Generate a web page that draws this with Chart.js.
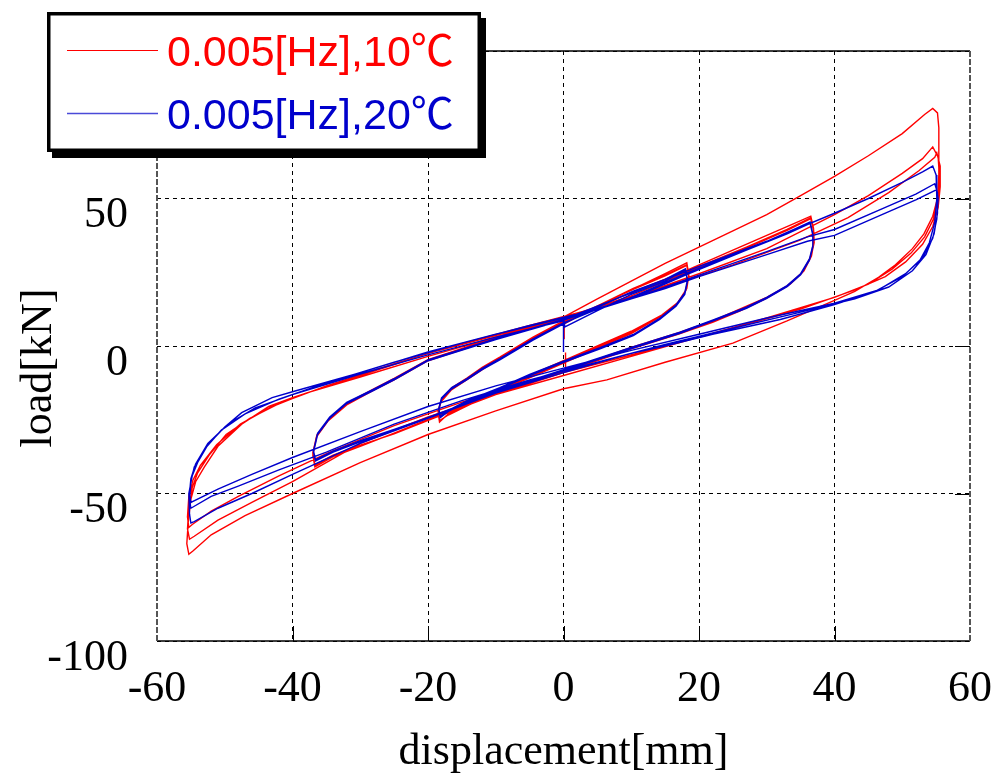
<!DOCTYPE html>
<html>
<head>
<meta charset="utf-8">
<script src="https://cdn.jsdelivr.net/npm/chart.js@4/dist/chart.umd.min.js"></script>
<style>
  html, body { margin: 0; padding: 0; background: #fff; }
  canvas { display: block; }
</style>
</head>
<body>
<canvas id="chart" width="997" height="776"></canvas>
<script>
// 軸の設定
const xTicks = [-60, -40, -20, 0, 20, 40, 60];
const yTicks = [-100, -50, 0, 50, 100];
const seriesLabels = ['0.005[Hz],10℃', '0.005[Hz],20℃'];
const lineColors = ['#ff0000', '#0000cc'];

const redSpike = [[0.3, -8.8], [0.3, -5], [0.3, -2.2]];
const redSmall = [
  [0.2, 2.5], [0.1, 5.5], [0.1, 7.5], [5, 13.5], [10, 19], [15, 24.5], [18.2, 28.2],
  [18.5, 24], [18.2, 19.5], [17, 15], [14.5, 10.5], [10, 5], [5, 0], [0, -5], [-5, -10], [-10, -15], [-14, -19.5], [-17, -23], [-18.3, -25.8],
  [-18.5, -22.5], [-18.1, -19], [-16.6, -15], [-14.3, -11.5], [-12, -8], [-9.4, -4], [-4.5, 2.5], [0, 8], [5.4, 14], [10.3, 19.5], [15, 24], [18.2, 27.5],
  [18.5, 23.5], [18.1, 19], [16.8, 14.5], [14.3, 10], [10, 4.5], [5, -0.5], [0, -5.5], [-5, -10.5], [-10, -15.5], [-14, -19.8], [-17, -23.2], [-18.3, -25.5],
  [-18.5, -22], [-18, -18.5], [-16.5, -14.5], [-14.2, -11], [-12, -7.5], [-9.4, -4], [-4.5, 2.8], [0, 8.2], [5.4, 14], [10.3, 19.2], [15, 23.8], [18.2, 27.3],
  [18.5, 23.2], [18, 18.8], [16.7, 14.2], [14.2, 9.8], [10, 4.2], [5, -0.8], [0, -5.8], [-5, -10.8], [-10, -15.6], [-14, -20], [-17, -23.4], [-18.3, -25.3],
  [-18.5, -21.8], [-18, -18.2], [-16.5, -14.2], [-14.2, -10.8], [-12, -7.2], [-9.4, -3.8], [-4.5, 3], [0, 8.5]
];
const redMid = [
  [5, 13.5], [10, 18], [18, 25.5], [25, 32.5], [30, 37.5], [34, 41.5], [36.5, 44],
  [36.9, 40], [37, 35.5], [36.6, 30.5], [35.5, 25.5], [33.5, 21], [30, 16.5], [26, 12.5], [22, 8.5], [17, 4.5], [10, -0.5], [0, -8.5], [-10, -16], [-18, -23], [-25, -29.5], [-30, -34], [-34, -37.5], [-36.7, -41],
  [-37, -37], [-36.5, -31], [-34.8, -25.5], [-32, -20], [-28, -15], [-25, -11.5], [-20, -5], [-10, 2.5], [0, 9.5], [10, 17], [18, 25], [27, 33.5], [33, 39.5], [36.5, 43.5],
  [36.9, 39.5], [37, 35], [36.5, 30], [35.3, 25], [33.2, 20.5], [29.8, 16], [26, 12], [22, 8.2], [17, 4.2], [10, -0.8], [0, -8.8], [-10, -16.3], [-18, -23.2], [-25, -29.6], [-30, -33.8], [-34, -37.2], [-36.7, -40.5],
  [-37, -36.5], [-36.4, -30.5], [-34.7, -25], [-32, -19.6], [-28, -14.7], [-25, -11.2], [-20, -4.8], [-10, 2.7], [0, 9.6], [10, 17], [18, 24.8], [27, 33.2], [33, 39.2], [36.5, 43.2],
  [36.9, 39.2], [36.9, 34.8], [36.4, 29.8], [35.2, 24.8], [33, 20.3], [29.6, 15.8], [26, 11.8], [22, 8], [17, 4], [10, -1], [0, -9], [-10, -16.5], [-18, -23.4], [-25, -29.8], [-30, -33.6], [-34, -37], [-36.7, -40.2],
  [-37, -36.2], [-36.4, -30.2], [-34.6, -24.8], [-32, -19.4], [-28, -14.5], [-25, -11], [-20, -4.6], [-10, 2.9], [0, 9.8]
];
const redLarge = [
  [5, 16], [10, 22], [15, 28], [20, 33.5], [25, 39], [30, 44.5], [35, 51], [40, 57.5], [45, 64.5], [50, 72], [53.3, 78.5], [54.5, 80.5], [55.2, 79],
  [55.4, 74], [55.4, 66], [55.4, 58], [55.2, 50], [54.5, 44], [53.2, 38], [51.5, 33], [49, 27.5], [46.5, 23.3], [43, 18.5], [40, 15.5], [33, 8.5], [25, 1], [15, -5.5], [6.4, -11.5], [0, -14.5], [-10, -22], [-20, -30], [-30, -39.5], [-40, -50], [-47, -57.5], [-52, -64], [-54.7, -69.5], [-55.3, -70.6],
  [-55.6, -67], [-55.4, -60], [-55, -52], [-54.3, -46], [-53, -41], [-51, -34], [-47.5, -26.5], [-43.5, -20.5], [-40, -17.5], [-30, -10], [-20, -2.5], [-10, 3.5], [0, 9.5], [10, 16.5], [20, 24.5], [30, 33], [40, 44.5], [45, 51], [50, 58.5], [53, 63.5], [54.5, 67.5],
  [55.3, 64], [55.5, 57], [55.3, 50], [54.6, 43], [53.3, 37], [51.3, 31.5], [48.5, 26], [45, 21], [40, 16.5], [30, 9.5], [20, 3], [10, -3.5], [0, -10], [-10, -16.5], [-20, -24], [-30, -33], [-40, -46], [-46, -53], [-51, -59], [-54.5, -64.5], [-55.2, -65.5],
  [-55.5, -62], [-55.3, -55], [-54.8, -48], [-54, -43], [-52.3, -37], [-49.8, -30], [-46.3, -24.5], [-42, -19.5], [-35, -13.5], [-25, -6], [-15, 0.8], [-5, 7], [5, 13], [15, 20], [25, 27.5], [35, 36], [42, 43.5], [48, 52], [52.5, 59.5], [54.8, 64], [55.1, 65.5],
  [55.6, 61], [55.6, 54], [55.3, 47], [54.5, 40.5], [53, 34.5], [50.5, 28.5], [47.5, 23.5], [43, 19], [35, 12.5], [25, 6], [15, 0], [5, -6], [-5, -12], [-15, -19], [-25, -27], [-35, -36.5], [-42, -44], [-48, -51], [-52, -56], [-54.8, -60.5], [-55.3, -61.5],
  [-55.5, -58], [-55.3, -51], [-54.7, -45.5], [-53.6, -40.5], [-51.2, -33.5], [-47.7, -26.5], [-43, -20.5], [-38, -16], [-30, -10.5], [-20, -3.5], [-10, 3], [0, 9]
];

// 20℃ 測定データ [変位mm, 荷重kN]
const blueSpike = [[0, -2], [0, 4], [0, 9.5], [0.2, 6.5]];
const blueSmall = [
  [5, 12], [10, 17.5], [15, 22], [18, 25.8],
  [18.3, 22], [17.9, 17.5], [16.6, 13.5], [14.2, 9], [10.3, 3.5], [5.4, -1], [0, -5.5], [-5, -10], [-9.4, -14.5], [-14.3, -19], [-17, -22.2], [-18.2, -24.3],
  [-18.4, -21.5], [-18, -18], [-16.5, -14.5], [-14.3, -11.5], [-12, -8], [-9.4, -4.7], [-4.5, 2], [0, 7.5], [5.4, 13.5], [10.3, 18.5], [15, 22.5], [18, 26],
  [18.3, 22.3], [17.9, 17.8], [16.6, 13.7], [14.2, 9.2], [10.3, 3.7], [5.4, -0.8], [0, -5.3], [-5, -9.8], [-9.4, -14.3], [-14.3, -18.8], [-17, -22], [-18.2, -24],
  [-18.4, -21.3], [-18, -17.8], [-16.5, -14.3], [-14.3, -11.3], [-12, -7.8], [-9.4, -4.5], [-4.5, 2.2], [0, 7.6], [5.4, 13.6], [10.3, 18.6], [15, 22.6], [18, 26.2],
  [18.3, 22.5], [17.9, 18], [16.6, 13.9], [14.2, 9.4], [10.3, 3.9], [5.4, -0.6], [0, -5.1], [-5, -9.6], [-9.4, -14.1], [-14.3, -18.6], [-17, -21.8], [-18.2, -23.8],
  [-18.4, -21.1], [-18, -17.6], [-16.5, -14.1], [-14.3, -11.1], [-12, -7.6], [-9.4, -4.3], [-4.5, 2.4], [0, 7.8]
];
const blueMid = [
  [5, 12.5], [10, 16.5], [18, 24.5], [25, 31], [30, 35.5], [34, 39.5], [36.4, 42],
  [36.8, 38], [36.8, 34], [36.3, 29.5], [35, 24.5], [33, 20.5], [30, 16.5], [27, 13.2], [22, 8.8], [17.2, 4.7], [10, -0.5], [0, -8], [-10, -15.5], [-18, -22.5], [-25, -28.5], [-30, -32.5], [-34, -36], [-36.6, -39],
  [-36.9, -36], [-36.3, -30], [-34.5, -24.5], [-32, -19.5], [-28, -15], [-25, -11.5], [-20, -5], [-10, 2.2], [0, 8.8], [10, 16], [18, 24], [27, 32.5], [33, 38], [36.4, 41.8],
  [36.8, 37.8], [36.8, 33.8], [36.3, 29.3], [35, 24.3], [33, 20.3], [30, 16.3], [27, 13], [22, 8.6], [17.2, 4.5], [10, -0.7], [0, -8.2], [-10, -15.6], [-18, -22.6], [-25, -28.4], [-30, -32.3], [-34, -35.8], [-36.6, -38.7],
  [-36.9, -35.8], [-36.3, -29.8], [-34.5, -24.3], [-32, -19.3], [-28, -14.8], [-25, -11.3], [-20, -4.9], [-10, 2.4], [0, 9], [10, 16.2], [18, 24.2], [27, 32.6], [33, 38], [36.4, 41.6],
  [36.8, 37.6], [36.8, 33.6], [36.3, 29.1], [35, 24.1], [33, 20.1], [30, 16.1], [27, 12.8], [22, 8.4], [17.2, 4.3], [10, -0.9], [0, -8.4], [-10, -15.8], [-18, -22.7], [-25, -28.3], [-30, -32.1], [-34, -35.6], [-36.6, -38.5],
  [-36.9, -35.6], [-36.3, -29.6], [-34.5, -24.1], [-32, -19.1], [-28, -14.6], [-25, -11.1], [-20, -4.7], [-10, 2.5], [0, 9]
];
const blueLarge = [
  [5, 13.5], [10, 18], [20, 27], [30, 35.5], [40, 45], [45, 50], [50, 55.5], [53, 59], [54.5, 61],
  [55, 58], [55.1, 50], [54.8, 42], [54, 35], [52.6, 29], [50, 23.5], [46, 18.5], [40, 14], [32, 9], [22, 4], [15, 0], [10, -2.5], [0, -9], [-10, -16], [-20, -24.5], [-30, -33], [-40, -43.5], [-46, -50], [-51, -55], [-54.5, -59.5], [-55, -60],
  [-55.2, -57], [-55.3, -50], [-54.8, -44], [-54, -39.5], [-52.5, -33.5], [-50, -27.5], [-47.5, -22.6], [-43, -17.5], [-40, -15.5], [-30, -9], [-20, -2], [-10, 4], [0, 9.5], [10, 16], [20, 24], [30, 32], [36, 37], [40, 39.5], [47, 46.5], [52, 51.5], [54.8, 55],
  [55.2, 52], [55.2, 45], [54.7, 38], [53.5, 31], [51.5, 25.5], [48, 20], [43, 16], [35, 11.5], [25, 6], [15, 0.5], [5, -5.5], [-5, -11.5], [-15, -18.5], [-25, -26.5], [-35, -36], [-42, -42], [-48, -47.5], [-52, -51], [-55, -55],
  [-55.2, -52], [-55, -46], [-54.5, -41], [-53, -35], [-50.5, -28.5], [-47, -23], [-42, -18], [-35, -12.5], [-25, -5.5], [-15, 1], [-5, 7], [5, 12.5], [15, 19.5], [20, 23.5], [30, 31], [36, 35.5], [40, 37.5], [47, 44.5], [52, 49.5], [55.1, 53],
  [55.3, 50], [55.1, 43], [54.5, 36.5], [53, 30], [50.5, 24.5], [46.5, 19], [40, 14.5], [30, 9.5], [20, 4], [10, -1.5], [0, -7.5], [-10, -13.5], [-20, -20.5], [-30, -29], [-40, -37.8], [-46, -43.5], [-51, -48.5], [-55, -53],
  [-55.2, -50], [-55, -45], [-54.3, -40], [-52.5, -33], [-49.5, -26.5], [-45.5, -21], [-40, -16.5], [-30, -9.5], [-20, -3], [-10, 3], [0, 8.5]
];

// [x, y] の配列を Chart.js の点に変換
function toPoints(pairs) {
    return pairs.map(p => ({ x: p[0], y: p[1] }));
}
const gap = { x: null, y: null };

const redData = [...toPoints(redSpike), gap, ...toPoints(redSmall), ...toPoints(redMid), ...toPoints(redLarge)];
const blueData = [...toPoints(blueSpike), ...toPoints(blueSmall), ...toPoints(blueMid), ...toPoints(blueLarge)];

const serifFont = 'Liberation Serif';

// 枠線と内向き目盛り
const framePlugin = {
    id: 'frame',
    beforeDatasetsDraw(chart) {
        const { ctx, chartArea: a, scales } = chart;
        ctx.save();
        ctx.setLineDash([]);
        ctx.strokeStyle = '#000';
        ctx.lineWidth = 1;
        xTicks.slice(1, -1).forEach(v => {
            const px = Math.round(scales.x.getPixelForValue(v)) + 0.5;
            ctx.beginPath();
            ctx.moveTo(px, a.bottom);
            ctx.lineTo(px, a.bottom - 15);
            ctx.stroke();
        });
        yTicks.slice(1, -1).forEach(v => {
            const py = Math.round(scales.y.getPixelForValue(v)) + 0.5;
            ctx.beginPath();
            ctx.moveTo(a.right, py);
            ctx.lineTo(a.right - 15, py);
            ctx.stroke();
        });
        ctx.lineWidth = 1.5;
        ctx.beginPath();
        ctx.moveTo(a.left, a.top); ctx.lineTo(a.right, a.top);
        ctx.moveTo(a.left, a.bottom); ctx.lineTo(a.right, a.bottom);
        ctx.stroke();
        ctx.strokeStyle = '#555';
        ctx.lineWidth = 2;
        ctx.setLineDash([6, 2]);
        ctx.beginPath();
        ctx.moveTo(a.left, a.top); ctx.lineTo(a.left, a.bottom);
        ctx.moveTo(a.right, a.top); ctx.lineTo(a.right, a.bottom);
        ctx.stroke();
        ctx.restore();
    }
};

// 影付きの凡例ボックス
const boxLegendPlugin = {
    id: 'boxLegend',
    afterDraw(chart) {
        const ctx = chart.ctx;
        const bx = 47, by = 12, bw = 434, bh = 140;
        ctx.save();
        ctx.fillStyle = '#000';
        ctx.fillRect(bx + 5, by + 6, bw, bh);
        ctx.fillRect(bx, by, bw, bh);
        ctx.fillStyle = '#fff';
        ctx.fillRect(bx + 3.5, by + 3.5, bw - 7, bh - 7);
        chart.data.datasets.forEach((ds, i) => {
            const ly = 50 + i * 63;
            ctx.strokeStyle = i === 0 ? ds.borderColor : '#4a4ad8';
            ctx.lineWidth = i === 0 ? 1 : 1.6;
            ctx.beginPath();
            ctx.moveTo(67, ly + 0.5);
            ctx.lineTo(158, ly + 0.5);
            ctx.stroke();
            ctx.fillStyle = ds.borderColor;
            ctx.font = '43px "Liberation Sans", "Noto Sans CJK JP", sans-serif';
            ctx.textBaseline = 'alphabetic';
            ctx.textAlign = 'left';
            ctx.fillText(ds.label, 167, ly + 16);
        });
        ctx.restore();
    }
};

const ctx = document.getElementById('chart').getContext('2d');
new Chart(ctx, {
    type: 'scatter',
    data: {
        datasets: [
            { label: seriesLabels[0], data: redData, borderColor: lineColors[0], backgroundColor: lineColors[0], showLine: true, pointRadius: 0, borderWidth: 1.4, spanGaps: false, order: 1 },
            { label: seriesLabels[1], data: blueData, borderColor: lineColors[1], backgroundColor: lineColors[1], showLine: true, pointRadius: 0, borderWidth: 1.4, spanGaps: false, order: 0 }
        ]
    },
    options: {
        responsive: false,
        animation: false,
        layout: { padding: { top: 51, right: 27, left: 0, bottom: 0 } },
        plugins: {
            legend: { display: false },
            tooltip: { enabled: false }
        },
        scales: {
            x: {
                type: 'linear',
                min: -60,
                max: 60,
                afterFit: s => { s.height = 135; s.paddingLeft = 0; s.paddingRight = 0; },
                ticks: { stepSize: 20, padding: 22, maxRotation: 0, autoSkip: false, color: '#000', font: { family: serifFont, size: 44 } },
                grid: { color: '#000', lineWidth: 1, drawTicks: false },
                border: { display: false, dash: [4, 4] },
                title: { display: true, text: 'displacement[mm]', color: '#000', padding: 0, font: { family: serifFont, size: 44, lineHeight: 1.05 } }
            },
            y: {
                type: 'linear',
                min: -100,
                max: 100,
                afterFit: s => { s.width = 157; s.paddingTop = 0; s.paddingBottom = 0; },
                ticks: { stepSize: 50, padding: 29, labelOffset: 17, color: '#000', font: { family: serifFont, size: 44 } },
                grid: { color: '#000', lineWidth: 1, drawTicks: false },
                border: { display: false, dash: [4, 4] },
                // 末尾の空白でタイトルを少し下へずらす
                title: { display: true, text: 'load[kN]    ', color: '#000', padding: { top: 16, bottom: 0 }, font: { family: serifFont, size: 44, lineHeight: 1.05 } }
            }
        }
    },
    plugins: [framePlugin, boxLegendPlugin]
});
</script>
</body>
</html>
